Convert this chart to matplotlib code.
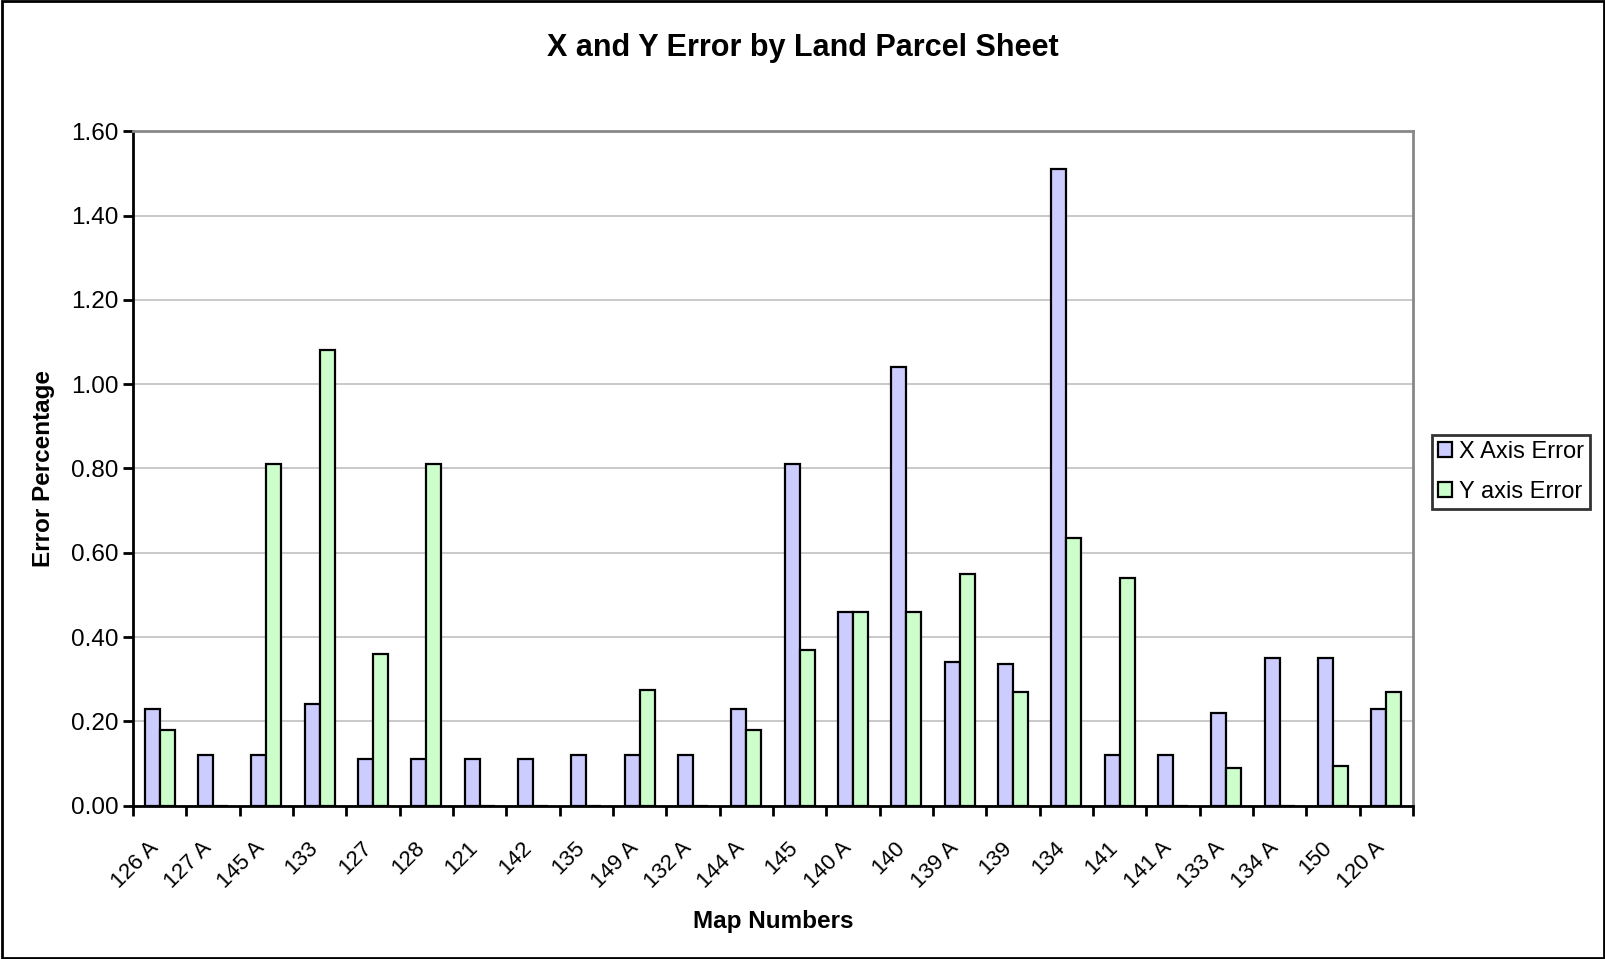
import matplotlib.pyplot as plt
import matplotlib.transforms as mtransforms
import numpy as np

plt.rcParams['font.family'] = ['Liberation Sans', 'DejaVu Sans']

# Map sheets in chart order
maps = ['126 A', '127 A', '145 A', '133', '127', '128', '121', '142', '135',
        '149 A', '132 A', '144 A', '145', '140 A', '140', '139 A', '139', '134',
        '141', '141 A', '133 A', '134 A', '150', '120 A']
x_err = [0.23, 0.12, 0.12, 0.24, 0.11, 0.11, 0.11, 0.11, 0.12,
         0.12, 0.12, 0.23, 0.81, 0.46, 1.04, 0.34, 0.335, 1.51,
         0.12, 0.12, 0.22, 0.35, 0.35, 0.23]
y_err = [0.18, 0.0, 0.81, 1.08, 0.36, 0.81, 0.0, 0.0, 0.0,
         0.275, 0.0, 0.18, 0.37, 0.46, 0.46, 0.55, 0.27, 0.635,
         0.54, 0.0, 0.09, 0.0, 0.095, 0.27]
yticks = [0.0, 0.2, 0.4, 0.6, 0.8, 1.0, 1.2, 1.4, 1.6]

fig = plt.figure(figsize=(16.06, 9.59), dpi=100)
ax = fig.add_axes([0.0828, 0.160, 0.797, 0.703])

idx = np.arange(len(maps))
w = 0.28
ax.bar(idx - w / 2, x_err, w, color='#ccccff', edgecolor='black', linewidth=1.6,
       label='X Axis Error', zorder=3)
ax.bar(idx + w / 2, y_err, w, color='#ccffcc', edgecolor='black', linewidth=1.6,
       label='Y axis Error', zorder=3)

ax.set_xlim(-0.5, len(maps) - 0.5)
ax.set_ylim(0, 1.6)
ax.set_yticks(yticks)
ax.set_yticklabels([f'{v:.2f}' for v in yticks], fontsize=17.5)
ax.yaxis.grid(True, color='#c0c0c0', linewidth=1.2, zorder=0)

# ticks at category boundaries, labels at category centres
ax.set_xticks(np.arange(len(maps) + 1) - 0.5)
ax.set_xticklabels([])
ax.set_xticks(idx, minor=True)
ax.set_xticklabels(maps, minor=True, rotation=45, ha='right', va='top',
                   rotation_mode='anchor', fontsize=16)
ax.tick_params(axis='x', which='minor', length=0, pad=23)
ax.tick_params(axis='both', which='major', direction='out', length=7, width=2,
               color='black')
shift = mtransforms.ScaledTranslation(-12 / 100, 0, fig.dpi_scale_trans)
for lbl in ax.get_xticklabels(minor=True):
    lbl.set_transform(lbl.get_transform() + shift)

for s in ['left', 'bottom']:
    ax.spines[s].set_linewidth(2)
for s in ['top', 'right']:
    ax.spines[s].set_color('#888888')
    ax.spines[s].set_linewidth(2)

ax.set_xlabel('Map Numbers', fontsize=17.5, fontweight='bold', va='center')
ax.xaxis.set_label_coords(0.5, -0.1725)
ax.set_ylabel('Error Percentage', fontsize=17.5, fontweight='bold', labelpad=11)
fig.text(0.5, 0.950, 'X and Y Error by Land Parcel Sheet', fontsize=22,
         fontweight='bold', ha='center', va='center')

leg = ax.legend(loc='center left', bbox_to_anchor=(1.015, 0.495), fontsize=17,
                frameon=True, fancybox=False, edgecolor='black',
                handlelength=0.6, handleheight=0.6, handletextpad=0.3,
                borderpad=0.25, labelspacing=0.75, borderaxespad=0)
leg.get_frame().set_linewidth(2)

# outer chart border
fig.patches.append(plt.Rectangle((0.001, 0.001), 0.998, 0.998,
                                 transform=fig.transFigure, fill=False,
                                 edgecolor='black', linewidth=2))

fig.savefig('out.png', dpi=100)
